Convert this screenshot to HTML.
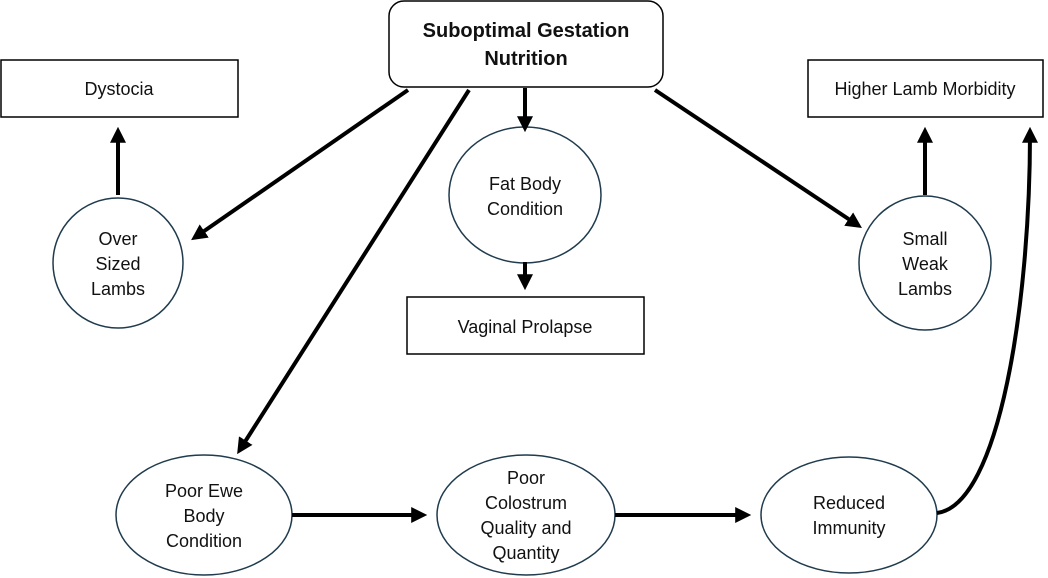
<!DOCTYPE html>
<html><head><meta charset="utf-8"><style>
html,body{margin:0;padding:0;background:#fff;}
svg{display:block;font-family:"Liberation Sans",sans-serif;}
</style></head><body>
<svg width="1048" height="578" viewBox="0 0 1048 578" xmlns="http://www.w3.org/2000/svg">
<defs>
<marker id="ah" markerWidth="4" markerHeight="4" refX="2.2" refY="2" orient="auto" markerUnits="strokeWidth">
<path d="M0,0 L4,2 L0,4 Z" fill="#000"/>
</marker>
</defs>
<g fill="#fff" stroke="#000" stroke-width="1.5">
<rect x="389" y="1" width="274" height="86" rx="15"/>
<rect x="1" y="60" width="237" height="57"/>
<rect x="808" y="60" width="235" height="57"/>
<rect x="407" y="297" width="237" height="57"/>
</g>
<g fill="#fff" stroke="#1f3b4d" stroke-width="1.5">
<ellipse cx="118" cy="263" rx="65" ry="65"/>
<ellipse cx="525" cy="195" rx="76" ry="68"/>
<ellipse cx="925" cy="263" rx="66" ry="67"/>
<ellipse cx="204" cy="515" rx="88" ry="60"/>
<ellipse cx="526" cy="515" rx="89" ry="60"/>
<ellipse cx="849" cy="515" rx="88" ry="58"/>
</g>
<g stroke="#000" stroke-width="4" fill="none" marker-end="url(#ah)">
<line x1="408" y1="90" x2="197" y2="236"/>
<line x1="469" y1="90" x2="241" y2="448"/>
<line x1="525" y1="88" x2="525" y2="125"/>
<line x1="655" y1="90" x2="856" y2="224"/>
<line x1="118" y1="195" x2="118" y2="134"/>
<line x1="525" y1="262" x2="525" y2="283"/>
<line x1="925" y1="195" x2="925" y2="134"/>
<line x1="292" y1="515" x2="420" y2="515"/>
<line x1="615" y1="515" x2="744" y2="515"/>
<path d="M937,513 C1000,505 1030,300 1030,134"/>
</g>
<g font-size="18" text-anchor="middle" fill="#111">
<text x="526" y="37" font-weight="bold" font-size="20">Suboptimal Gestation</text>
<text x="526" y="65" font-weight="bold" font-size="20">Nutrition</text>
<text x="119" y="95">Dystocia</text>
<text x="925" y="95">Higher Lamb Morbidity</text>
<text x="525" y="333">Vaginal Prolapse</text>
<text x="118" y="245">Over</text>
<text x="118" y="270">Sized</text>
<text x="118" y="295">Lambs</text>
<text x="525" y="190">Fat Body</text>
<text x="525" y="215">Condition</text>
<text x="925" y="245">Small</text>
<text x="925" y="270">Weak</text>
<text x="925" y="295">Lambs</text>
<text x="204" y="497">Poor Ewe</text>
<text x="204" y="522">Body</text>
<text x="204" y="547">Condition</text>
<text x="526" y="484">Poor</text>
<text x="526" y="509">Colostrum</text>
<text x="526" y="534">Quality and</text>
<text x="526" y="559">Quantity</text>
<text x="849" y="509">Reduced</text>
<text x="849" y="534">Immunity</text>
</g>
</svg>
</body></html>
